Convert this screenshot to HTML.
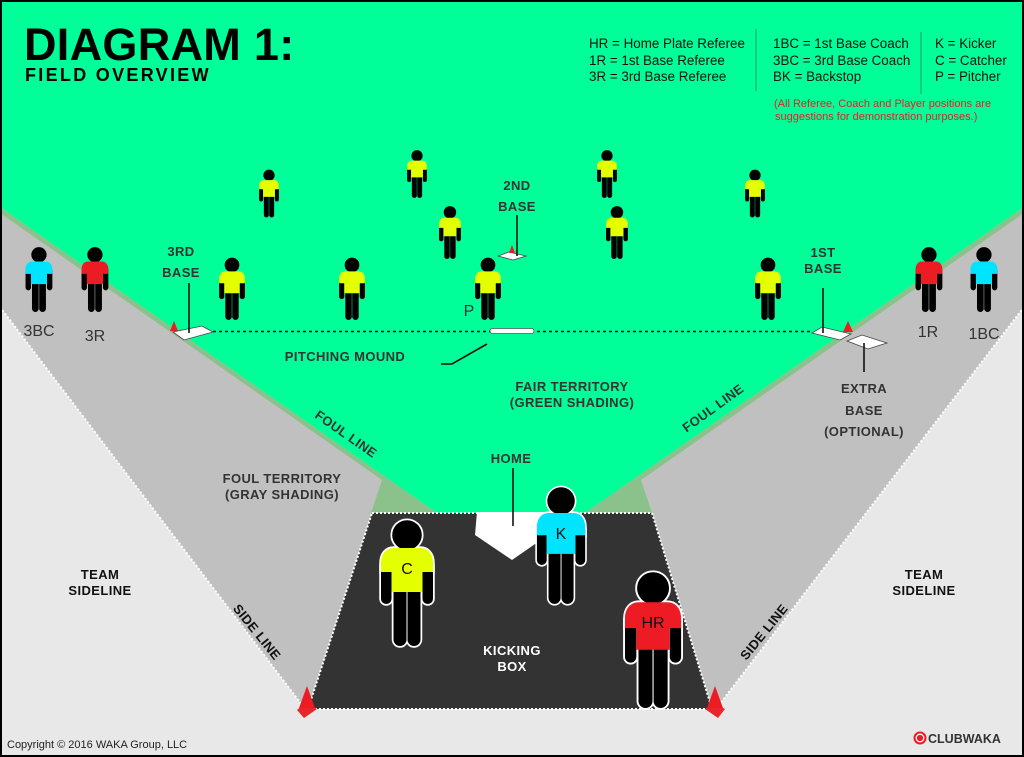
<!DOCTYPE html>
<html><head><meta charset="utf-8"><style>
html,body{margin:0;padding:0;background:#fff;}
svg{display:block;}
.lb{font-family:"Liberation Sans",sans-serif;font-weight:bold;font-size:13px;fill:#333;letter-spacing:0.4px;}
.lt{font-family:"Liberation Sans",sans-serif;font-size:13.4px;fill:#111;}
.sm{font-family:"Liberation Sans",sans-serif;font-size:16px;fill:#333;}
</style></head><body>
<svg width="1024" height="757" viewBox="0 0 1024 757" xmlns="http://www.w3.org/2000/svg">
<defs>
<symbol id="pf" viewBox="0 0 54 126" overflow="visible">
  <circle cx="27" cy="15" r="14.8"/>
  <rect x="1" y="40" width="10.5" height="44" rx="5.25"/>
  <rect x="42.5" y="40" width="10.5" height="44" rx="5.25"/>
  <rect x="13.5" y="62" width="13" height="64" rx="6.5"/>
  <rect x="27.5" y="62" width="13" height="64" rx="6.5"/>
  <path fill="currentColor" d="M14,28 H40 C48,28 53,34 53,43 V52 H42.5 V72 H11.5 V52 H1 V43 C1,34 6,28 14,28 Z"/>
</symbol>
</defs>

<!-- base light gray -->
<rect x="0" y="0" width="1024" height="757" fill="#E8E8E8"/>
<!-- foul territory gray -->
<polygon points="0,207 440,513 305,709 0,307" fill="#C0C0C0"/>
<polygon points="1024,207 584,513 716,709 1024,307" fill="#C0C0C0"/>
<!-- fair territory green -->
<polygon points="0,0 1024,0 1024,207 585,513 437,513 0,207" fill="#00FF99"/>
<!-- foul line bands / triangles -->
<polygon points="0,207 437,513 371,513 382,480 0,213" fill="#8BC28C"/>
<polygon points="1024,207 585,513 652,513 641,480 1024,213" fill="#8BC28C"/>

<!-- kicking box -->
<polygon points="372,513 652,513 712,709 308,709" fill="#333333"/>
<polygon points="372,513 652,513 712,709 308,709" fill="none" stroke="#fff" stroke-width="2" stroke-dasharray="2 2"/>
<!-- side lines -->
<line x1="0" y1="307" x2="305" y2="709" stroke="#fff" stroke-width="2" stroke-dasharray="2 2"/>
<line x1="1024" y1="307" x2="716" y2="709" stroke="#fff" stroke-width="2" stroke-dasharray="2 2"/>

<!-- cones at kicking box -->
<polygon points="297,710 305,703 317,709 304,718" fill="#E8262C"/>
<polygon points="307,686 299,708 315,708" fill="#ED1C24"/>
<polygon points="705,709 714,703 725,709 718,718" fill="#E8262C"/>
<polygon points="715,686 707,708 723,708" fill="#ED1C24"/>

<!-- home plate -->
<polygon points="477,512 546,512 548,535 512,560 475,535" fill="#fff"/>
<line x1="513" y1="468" x2="513" y2="526" stroke="#111" stroke-width="1.6"/>

<!-- 1st-3rd diagonal -->
<line x1="213" y1="331.5" x2="813" y2="331.5" stroke="#111" stroke-width="1.5" stroke-dasharray="3 3"/>
<rect x="490" y="328.5" width="44" height="5" rx="2.5" fill="#fff" stroke="#555" stroke-width="0.8"/>
<!-- mound pointer -->
<polyline points="487,344 452,364 441,364" fill="none" stroke="#111" stroke-width="1.6"/>

<!-- 3rd base -->
<polygon points="173,332 184,340 213,332 202,326" fill="#fff" stroke="#444" stroke-width="0.8"/>
<polygon points="174,321 170,331 178,331" fill="#ED1C24"/>
<line x1="189" y1="283" x2="189" y2="333" stroke="#111" stroke-width="1.6"/>
<!-- 2nd base -->
<polygon points="498,256 509,252 526,256 513,260" fill="#fff" stroke="#444" stroke-width="0.8"/>
<polygon points="512,245 509,253 515,253" fill="#ED1C24"/>
<line x1="517" y1="215" x2="517" y2="256" stroke="#111" stroke-width="1.6"/>
<!-- 1st base -->
<polygon points="812,333 840,340 851,334 822,327" fill="#fff" stroke="#444" stroke-width="0.8"/>
<polygon points="847,341 868,349 887,343 862,335" fill="#fff" stroke="#444" stroke-width="0.8"/>
<polygon points="848,321 843,332 853,332" fill="#ED1C24"/>
<line x1="823" y1="288" x2="823" y2="333" stroke="#111" stroke-width="1.6"/>
<line x1="864" y1="343" x2="864" y2="372" stroke="#111" stroke-width="1.6"/>

<!-- fielders small -->
<g fill="#000" color="#E4FF00">
<use href="#pf" x="258.7" y="169.5" width="20.6" height="48"/>
<use href="#pf" x="406.7" y="150" width="20.6" height="48"/>
<use href="#pf" x="438.6" y="206" width="22.7" height="53"/>
<use href="#pf" x="596.7" y="150" width="20.6" height="48"/>
<use href="#pf" x="744.7" y="169.5" width="20.6" height="48"/>
<use href="#pf" x="605.6" y="206" width="22.7" height="53"/>
<use href="#pf" x="218.6" y="257.5" width="26.8" height="62.5"/>
<use href="#pf" x="338.6" y="257.5" width="26.8" height="62.5"/>
<use href="#pf" x="474.6" y="257.5" width="26.8" height="62.5"/>
<use href="#pf" x="754.6" y="257.5" width="26.8" height="62.5"/>
</g>
<!-- side referees / coaches -->
<g fill="#000">
<use href="#pf" x="25" y="247" width="27.9" height="65" color="#00E4FF"/>
<use href="#pf" x="81" y="247" width="27.9" height="65" color="#ED1C24"/>
<use href="#pf" x="915" y="247" width="27.9" height="65" color="#ED1C24"/>
<use href="#pf" x="970" y="247" width="27.9" height="65" color="#00E4FF"/>
</g>
<!-- kicking box people with white outline -->
<g fill="#fff" stroke="#fff" stroke-width="3.5" color="#fff">
<use href="#pf" x="380" y="520" width="54" height="126"/>
<use href="#pf" x="536" y="487" width="50.1" height="117"/>
<use href="#pf" x="623.9" y="572" width="58.3" height="136"/>
</g>
<g fill="#000">
<use href="#pf" x="380" y="520" width="54" height="126" color="#E4FF00"/>
<use href="#pf" x="536" y="487" width="50.1" height="117" color="#00E4FF"/>
<use href="#pf" x="623.9" y="572" width="58.3" height="136" color="#ED1C24"/>
</g>
<g font-family="Liberation Sans, sans-serif" font-size="16" fill="#111" text-anchor="middle">
<text x="407" y="574">C</text>
<text x="561" y="539">K</text>
<text x="653" y="628">HR</text>
</g>

<!-- person labels -->
<g class="sm" text-anchor="middle">
<text class="sm" x="39" y="336">3BC</text>
<text class="sm" x="95" y="341">3R</text>
<text class="sm" x="928" y="337">1R</text>
<text class="sm" x="984" y="339">1BC</text>
<text class="sm" x="469" y="316">P</text>
</g>

<!-- Title -->
<text x="24" y="60" font-family="Liberation Sans, sans-serif" font-weight="bold" font-size="45" fill="#000" letter-spacing="0.3">DIAGRAM 1:</text>
<text x="25" y="81" font-family="Liberation Sans, sans-serif" font-weight="bold" font-size="18" fill="#000" letter-spacing="2.3">FIELD OVERVIEW</text>

<!-- legend -->
<g class="lt">
<text class="lt" x="589" y="48">HR = Home Plate Referee</text>
<text class="lt" x="589" y="65">1R = 1st Base Referee</text>
<text class="lt" x="589" y="81">3R = 3rd Base Referee</text>
<text class="lt" x="773" y="48">1BC = 1st Base Coach</text>
<text class="lt" x="773" y="65">3BC = 3rd Base Coach</text>
<text class="lt" x="773" y="81">BK = Backstop</text>
<text class="lt" x="935" y="48">K = Kicker</text>
<text class="lt" x="935" y="65">C = Catcher</text>
<text class="lt" x="935" y="81">P = Pitcher</text>
</g>
<line x1="756" y1="29" x2="756" y2="91" stroke="#1E9E62" stroke-width="1"/>
<line x1="921" y1="32" x2="921" y2="94" stroke="#1E9E62" stroke-width="1"/>
<g font-family="Liberation Sans, sans-serif" font-size="11" fill="#ED1C24">
<text x="774" y="107">(All Referee, Coach and Player positions are</text>
<text x="775" y="120">suggestions for demonstration purposes.)</text>
</g>

<!-- field labels -->
<g class="lb" text-anchor="middle">
<text class="lb" x="181" y="256">3RD</text>
<text class="lb" x="181" y="277">BASE</text>
<text class="lb" x="517" y="190">2ND</text>
<text class="lb" x="517" y="211">BASE</text>
<text class="lb" x="823" y="257">1ST</text>
<text class="lb" x="823" y="273">BASE</text>
<text class="lb" x="345" y="361">PITCHING MOUND</text>
<text class="lb" x="572" y="391">FAIR TERRITORY</text>
<text class="lb" x="572" y="407">(GREEN SHADING)</text>
<text class="lb" x="511" y="463">HOME</text>
<text class="lb" x="282" y="483">FOUL TERRITORY</text>
<text class="lb" x="282" y="499">(GRAY SHADING)</text>
<text class="lb" x="864" y="393">EXTRA</text>
<text class="lb" x="864" y="415">BASE</text>
<text class="lb" x="864" y="436">(OPTIONAL)</text>
<text class="lb" x="100" y="579" style="fill:#111">TEAM</text>
<text class="lb" x="100" y="595" style="fill:#111">SIDELINE</text>
<text class="lb" x="924" y="579" style="fill:#111">TEAM</text>
<text class="lb" x="924" y="595" style="fill:#111">SIDELINE</text>
<text class="lb" x="512" y="655" style="fill:#fff">KICKING</text>
<text class="lb" x="512" y="671" style="fill:#fff">BOX</text>
<text class="lb" transform="translate(346,434) rotate(35)" x="0" y="4.5">FOUL LINE</text>
<text class="lb" transform="translate(713,408) rotate(-36)" x="0" y="4.5">FOUL LINE</text>
<text class="lb" transform="translate(257,632) rotate(51)" x="0" y="4.5" style="fill:#111">SIDE LINE</text>
<text class="lb" transform="translate(764,632) rotate(-51)" x="0" y="4.5" style="fill:#111">SIDE LINE</text>
</g>

<!-- footer -->
<text x="7" y="748" font-family="Liberation Sans, sans-serif" font-size="11" fill="#222">Copyright © 2016 WAKA Group, LLC</text>
<circle cx="920" cy="738" r="6.5" fill="#ED1C24"/>
<circle cx="920" cy="738" r="3.8" fill="none" stroke="#fff" stroke-width="1.3"/>
<text x="928" y="743" font-family="Liberation Sans, sans-serif" font-weight="bold" font-size="12.5" fill="#333">CLUBWAKA</text>

<!-- border -->
<rect x="1" y="1" width="1022" height="755" fill="none" stroke="#000" stroke-width="2"/>
</svg>
</body></html>
